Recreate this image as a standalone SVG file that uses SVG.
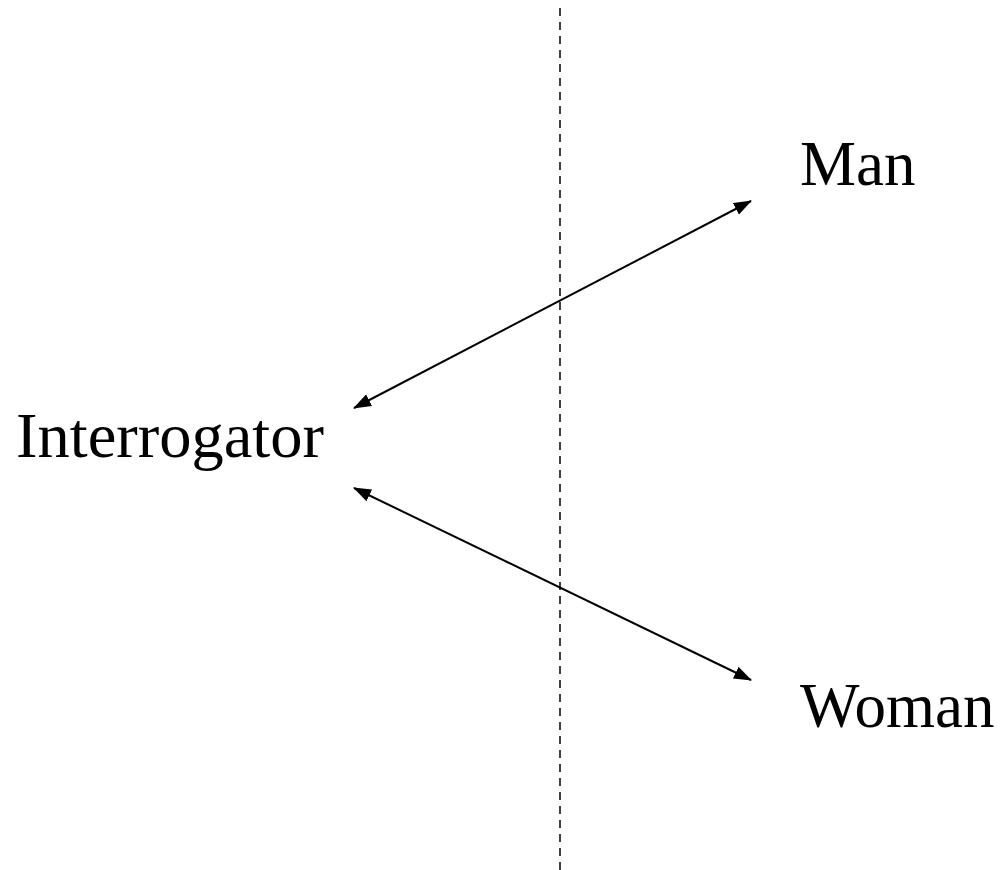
<svg xmlns="http://www.w3.org/2000/svg" width="1001" height="870" viewBox="0 0 1001 870">
<style>
.lbl{font-family:"Liberation Serif","Times New Roman",serif;font-size:63px;fill:#000}
.arr{stroke:#000;stroke-width:2;fill:none;marker-start:url(#ah);marker-end:url(#ah)}
.div{stroke:#000;stroke-width:1.5;stroke-dasharray:8 6;fill:none}
</style>
<defs>
<marker id="ah" viewBox="0 0 18 13" refX="17" refY="6.5" markerWidth="18" markerHeight="13" markerUnits="userSpaceOnUse" orient="auto-start-reverse">
<path d="M0,0 L18,6.5 L0,13 Z" fill="#000"/>
</marker>
</defs>
<rect width="1001" height="870" fill="#fff"/>
<g id="divider"><line class="div" x1="560" y1="8" x2="560" y2="870"/></g>
<g id="connectors">
<line class="arr" x1="354" y1="408" x2="751" y2="201"/>
<line class="arr" x1="354" y1="488" x2="751" y2="680"/>
</g>
<g id="interrogator"><text class="lbl" x="16" y="457" textLength="308" lengthAdjust="spacingAndGlyphs">Interrogator</text></g>
<g id="man"><text class="lbl" x="800" y="185">Man</text></g>
<g id="woman"><text class="lbl" x="800" y="727">Woman</text></g>
</svg>
